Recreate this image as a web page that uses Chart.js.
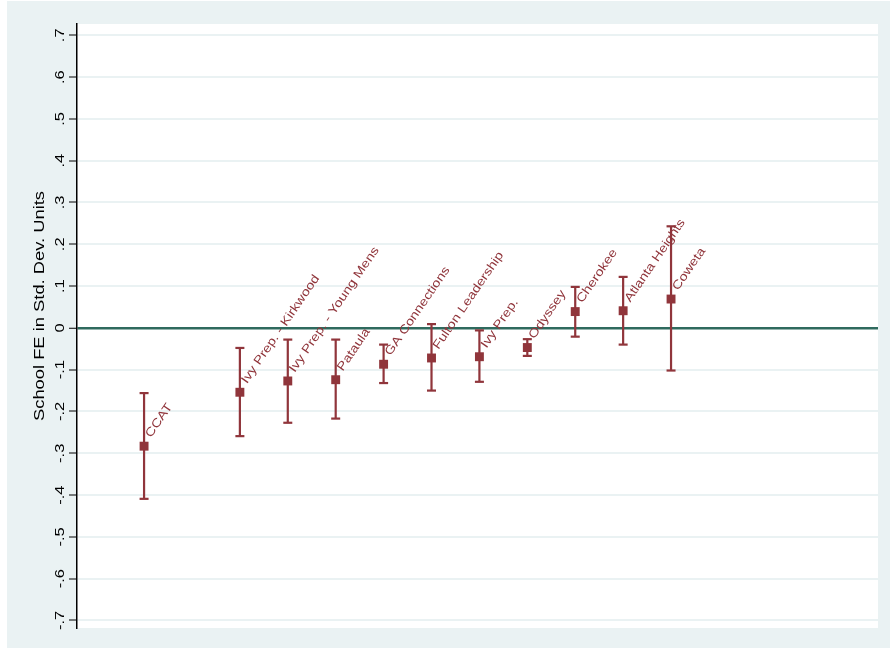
<!DOCTYPE html>
<html>
<head>
<meta charset="utf-8">
<script src="https://cdn.jsdelivr.net/npm/chart.js@4/dist/chart.umd.min.js"></script>
<style>
  body { margin: 0; background: #ffffff; }
  canvas { display: block; }
</style>
</head>
<body>
<canvas id="schoolChart" width="890" height="649"></canvas>
<script>
// school fixed effects, ordered by estimate
const schools = ['CCAT', 'Ivy Prep. - Kirkwood', 'Ivy Prep. - Young Mens', 'Pataula', 'GA Connections',
    'Fulton Leadership', 'Ivy Prep.', 'Odyssey', 'Cherokee', 'Atlanta Heights', 'Coweta'];
const rank = [1, 3, 4, 5, 6, 7, 8, 9, 10, 11, 12];
const estimate = [-0.283, -0.154, -0.127, -0.124, -0.087, -0.072, -0.069, -0.047, 0.039, 0.041, 0.069];
const lower = [-0.409, -0.259, -0.227, -0.217, -0.132, -0.150, -0.129, -0.067, -0.021, -0.040, -0.102];
const upper = [-0.156, -0.048, -0.028, -0.028, -0.040, 0.009, -0.006, -0.027, 0.098, 0.122, 0.243];
const yTicks = [-0.7, -0.6, -0.5, -0.4, -0.3, -0.2, -0.1, 0, 0.1, 0.2, 0.3, 0.4, 0.5, 0.6, 0.7];
const yTickLabels = ['-.7', '-.6', '-.5', '-.4', '-.3', '-.2', '-.1', '0', '.1', '.2', '.3', '.4', '.5', '.6', '.7'];
const yTitle = 'School FE in Std. Dev. Units';

const maroon = 'rgb(144,53,59)';
const bgBlue = '#eaf2f3';
const teal = '#2f6a5e';
const fontFamily = '"Liberation Sans", Arial, sans-serif';

// whiskers: lower -> upper, null breaks the line between schools
const whiskers = [];
rank.forEach((x, i) => {
    whiskers.push({ x: x, y: lower[i] });
    whiskers.push({ x: x, y: upper[i] });
    whiskers.push({ x: x, y: null });
});

const backdrop = {
    id: 'backdrop',
    beforeDraw(chart) {
        const { ctx, chartArea } = chart;
        ctx.save();
        ctx.fillStyle = '#ffffff';
        ctx.fillRect(0, 0, chart.width, chart.height);
        ctx.fillStyle = bgBlue;
        ctx.fillRect(7, 1, chart.width - 7, chart.height - 2);
        ctx.fillStyle = '#ffffff';
        ctx.fillRect(chartArea.left, chartArea.top, chartArea.right - chartArea.left, chartArea.bottom - chartArea.top);
        ctx.restore();
    }
};

const texts = {
    id: 'texts',
    afterDraw(chart) {
        const ctx = chart.ctx;
        const yScale = chart.scales.y;
        ctx.save();
        ctx.fillStyle = '#000000';

        // tick labels, rotated like the y title
        ctx.font = '12.5px ' + fontFamily;
        ctx.textAlign = 'center';
        ctx.textBaseline = 'middle';
        yTicks.forEach((v, i) => {
            ctx.save();
            ctx.translate(61, yScale.getPixelForValue(v));
            ctx.rotate(-Math.PI / 2);
            ctx.scale(1.32, 1);
            ctx.fillText(yTickLabels[i], 0, 0);
            ctx.restore();
        });

        // y title
        ctx.save();
        ctx.font = '14px ' + fontFamily;
        ctx.translate(40, 306);
        ctx.rotate(-Math.PI / 2);
        ctx.scale(1.31, 1);
        ctx.fillText(yTitle, 0, 0);
        ctx.restore();

        // marker labels
        const meta = chart.getDatasetMeta(0);
        ctx.fillStyle = maroon;
        ctx.font = '12px ' + fontFamily;
        ctx.textAlign = 'left';
        ctx.textBaseline = 'alphabetic';
        meta.data.forEach((pt, i) => {
            ctx.save();
            ctx.translate(pt.x + 7, pt.y - 8);
            ctx.rotate(-55.5 * Math.PI / 180);
            ctx.scale(1.2, 1);
            ctx.fillText(schools[i], 0, 0);
            ctx.restore();
        });
        ctx.restore();
    }
};

new Chart(document.getElementById('schoolChart'), {
    type: 'scatter',
    data: {
        datasets: [{
            label: 'Estimate',
            data: rank.map((x, i) => ({ x: x, y: estimate[i] })),
            pointStyle: 'rect',
            pointRadius: 6.3,
            pointHoverRadius: 6.3,
            backgroundColor: maroon,
            borderColor: maroon,
            borderWidth: 0,
            order: 0
        }, {
            type: 'line',
            label: 'CI',
            data: whiskers,
            showLine: true,
            spanGaps: false,
            borderColor: maroon,
            borderWidth: 2.2,
            pointStyle: 'line',
            pointRadius: 4.5,
            pointHoverRadius: 4.5,
            pointBorderWidth: 2.2,
            pointBorderColor: maroon,
            fill: false,
            order: 1
        }]
    },
    options: {
        responsive: false,
        animation: false,
        devicePixelRatio: 1,
        layout: { padding: { top: 24, bottom: 21, right: 12, left: 0 } },
        plugins: {
            legend: { display: false },
            tooltip: { enabled: false }
        },
        scales: {
            x: {
                type: 'linear',
                min: -0.4,
                max: 16.32,
                display: false
            },
            y: {
                type: 'linear',
                min: -0.718,
                max: 0.727,
                afterBuildTicks: s => { s.ticks = yTicks.map(v => ({ value: v })); },
                afterFit: s => { s.width = 77; },
                ticks: { display: false },
                grid: {
                    color: c => (c.tick && c.tick.value === 0 ? teal : bgBlue),
                    lineWidth: c => (c.tick && c.tick.value === 0 ? 2.5 : 2),
                    drawTicks: true,
                    tickLength: 8,
                    tickColor: '#000000',
                    tickWidth: 1
                },
                border: { display: true, color: '#000000', width: 1.5 }
            }
        }
    },
    plugins: [backdrop, texts]
});
</script>
</body>
</html>
